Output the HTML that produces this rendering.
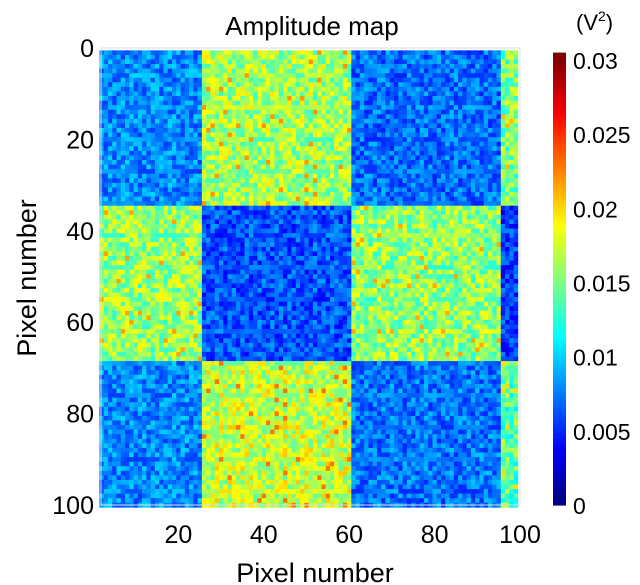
<!DOCTYPE html>
<html><head><meta charset="utf-8"><style>
html,body{margin:0;padding:0;background:#fff;width:640px;height:585px;overflow:hidden}
svg{display:block;font-family:"Liberation Sans",Arial,sans-serif}
</style></head><body>
<svg id="chart" width="640" height="585" viewBox="0 0 640 585">
<text x="312" y="35" font-size="26" text-anchor="middle">Amplitude map</text>
<g id="cells"></g>
<rect x="101" y="48" width="419" height="457" fill="none" stroke="#ddd" stroke-width="1"/>
<g id="xt"></g>
<g id="yt"></g>
<text x="315" y="582" font-size="27" text-anchor="middle">Pixel number</text>
<text transform="translate(36,278) rotate(-90)" font-size="27" text-anchor="middle">Pixel number</text>
<g id="cb"></g>
<text x="576" y="30" font-size="22">(V<tspan font-size="14" dy="-9">2</tspan><tspan dy="9">)</tspan></text>
</svg>
<script>
const rowBlockEnds=[34,68,100];
const colBlockEnds=[25,60,95,99];
const blockMeans=[[0.0078,0.0162,0.0070,0.0150],[0.0158,0.0062,0.0156,0.0055],[0.0078,0.0172,0.0072,0.0140]];
const texture="3715926048271539604817263950418273659024817365092471836502918374650219384756019283746501928374650193847562018374652901837465";
const xTicks=[20,40,60,80,100];
const yTicks=[0,20,40,60,80,100];
const cbTicks=[0,0.005,0.01,0.015,0.02,0.025,0.03];
const cbTickLabels=["0","0.005","0.01","0.015","0.02","0.025","0.03"];
const NS="http://www.w3.org/2000/svg";
const xs=v=>93+(v)*4.27;
const ys=v=>48+(v)*4.57;
const cs=v=>505-v*(445/0.03);
function jet(t){t=Math.max(0,Math.min(1,t));
 const f=x=>Math.max(0,Math.min(1,x));
 const r=f(1.5-Math.abs(4*t-3)),g=f(1.5-Math.abs(4*t-2)),b=f(1.5-Math.abs(4*t-1));
 return `rgb(${Math.round(r*255)},${Math.round(g*255)},${Math.round(b*255)})`;}
function blockIdx(ends,v){for(let i=0;i<ends.length;i++)if(v<=ends[i])return i;return ends.length-1;}
const cells=document.getElementById('cells');
for(let r=1;r<=100;r++){for(let c=2;c<=99;c++){
 const bi=blockIdx(rowBlockEnds,r),bj=blockIdx(colBlockEnds,c);
 const m=blockMeans[bi][bj];
 const d=+texture[(r*37+c*11+((r*c)%7))%texture.length];
 const amp=m>0.012?0.0007:0.0005;
 let v=m+(d-4.5)*amp;
 if(m>0.012&&d===9&&((r+c)%3===0))v+=0.0025;
 const el=document.createElementNS(NS,'rect');
 
 
 el.setAttribute('x',xs(c-0.5));el.setAttribute('y',ys(r-0.5)+0.05);
 el.setAttribute('width',4.6);el.setAttribute('height',4.9);
 el.setAttribute('fill',jet(v/0.03));cells.appendChild(el);}}
const xt=document.getElementById('xt');
xTicks.forEach(t=>{const el=document.createElementNS(NS,'text');
 
 
 el.setAttribute('x',xs(t));el.setAttribute('y',543);el.setAttribute('font-size','25');el.setAttribute('text-anchor','middle');el.textContent=t;xt.appendChild(el);});
const yt=document.getElementById('yt');
yTicks.forEach(t=>{const el=document.createElementNS(NS,'text');
 
 
 el.setAttribute('x',94);el.setAttribute('y',ys(t)+9);el.setAttribute('font-size','25');el.setAttribute('text-anchor','end');el.textContent=t;yt.appendChild(el);});
const cb=document.getElementById('cb');
for(let i=0;i<120;i++){const v0=i/120*0.0305;const el=document.createElementNS(NS,'rect');
 
 
 const yTop=cs(v0+0.0305/120),yBot=cs(v0);
 el.setAttribute('x',553);el.setAttribute('y',Math.max(49,yTop));el.setAttribute('width',13);el.setAttribute('height',yBot-Math.max(49,yTop)+0.6);
 el.setAttribute('fill',jet(v0/0.03));cb.appendChild(el);}
cbTicks.forEach((t,i)=>{const el=document.createElementNS(NS,'text');
 
 
 el.setAttribute('x',573);el.setAttribute('y',cs(t)+9);el.setAttribute('font-size','23');el.textContent=cbTickLabels[i];cb.appendChild(el);});
</script>
</body></html>
